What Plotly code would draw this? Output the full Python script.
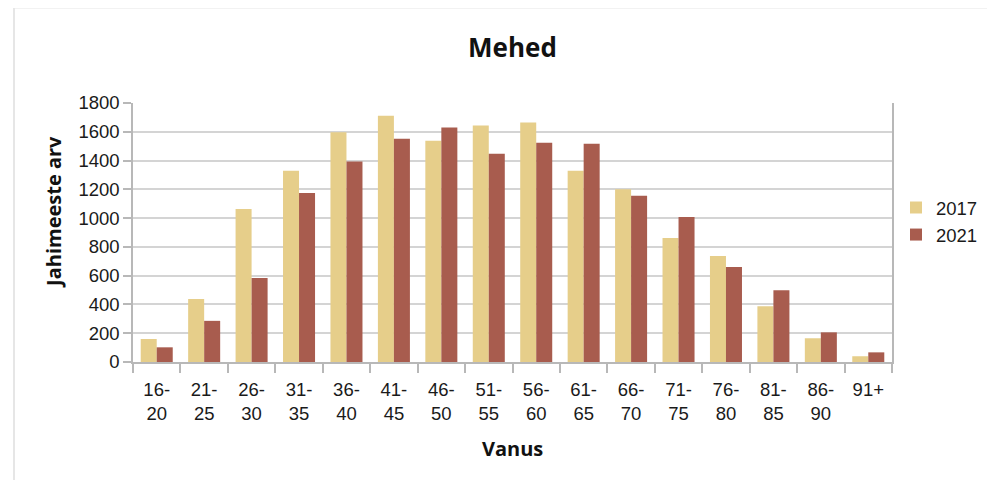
import plotly.graph_objects as go

categories = ["16-<br>20", "21-<br>25", "26-<br>30", "31-<br>35", "36-<br>40", "41-<br>45",
              "46-<br>50", "51-<br>55", "56-<br>60", "61-<br>65", "66-<br>70", "71-<br>75",
              "76-<br>80", "81-<br>85", "86-<br>90", "91+"]
values_2017 = [160, 437, 1064, 1329, 1596, 1712, 1538, 1643, 1664, 1329, 1201, 862, 736, 388, 165, 40]
values_2021 = [102, 286, 583, 1175, 1394, 1552, 1629, 1448, 1524, 1517, 1155, 1008, 660, 499, 206, 67]
y_ticks = [0, 200, 400, 600, 800, 1000, 1200, 1400, 1600, 1800]

# the page body adds an 8px offset; work in page pixels and subtract it
OFF = 8
W, H = 995 - OFF, 480 - OFF
L, R, T, B = 133 - OFF, 892 - OFF, 103.3 - OFF, 361.7 - OFF
pw, ph = R - L, B - T

def px(x):
    return (x - OFF - L) / pw

def py(y):
    return (B - (y - OFF)) / ph

fig = go.Figure()
fig.add_trace(go.Bar(name="2017", x=categories, y=values_2017, marker_color="#E6CE8A",
                     marker_line_width=0))
fig.add_trace(go.Bar(name="2021", x=categories, y=values_2021, marker_color="#A85C4E",
                     marker_line_width=0))

tick_font = dict(family="Liberation Sans, Arial, sans-serif", size=18.5, color="#1a1a1a")
title_font_family = "Open Sans, DejaVu Sans, sans-serif"

fig.update_layout(
    width=W, height=H,
    margin=dict(l=L, r=W - R, t=T, b=H - B, autoexpand=False),
    paper_bgcolor="white", plot_bgcolor="white",
    barmode="group", bargap=0.325, bargroupgap=0,
    title=dict(text="<b>Mehed</b>", x=0.5, xref="paper", y=1 - (48 - OFF) / H, yref="container",
               xanchor="center", yanchor="middle",
               font=dict(family=title_font_family, size=26, color="#111")),
    legend=dict(x=px(896), y=py(221.5), xanchor="left", yanchor="middle",
                font=dict(family="Liberation Sans, Arial, sans-serif", size=18.5, color="#1a1a1a"),
                itemwidth=30, bgcolor="rgba(0,0,0,0)"),
    showlegend=True,
)

fig.update_xaxes(
    type="category", showgrid=False, showline=True, linecolor="#b8b8b8", linewidth=1.5,
    ticks="outside", tickson="boundaries", ticklen=9, tickcolor="#b8b8b8", tickwidth=1.5,
    tickfont=tick_font, tickangle=0, ticklabelstandoff=10,
)
fig.update_yaxes(
    range=[0, 1800], tickvals=y_ticks, showgrid=True, gridcolor="#d4d4d4", gridwidth=1.5,
    showline=True, linecolor="#b8b8b8", linewidth=1.5, mirror=True,
    ticks="outside", ticklen=8, tickcolor="#b8b8b8", tickwidth=1.5,
    tickfont=tick_font, zeroline=False,
)

# axis titles
fig.add_annotation(text="<b>Vanus</b>", x=0.5, y=py(448), xref="paper", yref="paper",
                   showarrow=False, xanchor="center", yanchor="middle",
                   font=dict(family=title_font_family, size=20, color="#111"))
fig.add_annotation(text="<b>Jahimeeste arv</b>", x=px(54), y=py(212), xref="paper", yref="paper",
                   showarrow=False, xanchor="center", yanchor="middle", textangle=-90,
                   font=dict(family=title_font_family, size=20, color="#111"))

# outer frame
fig.add_shape(type="rect", xref="paper", yref="paper",
              x0=px(14), x1=px(1010), y0=py(500), y1=py(8),
              line=dict(color="#e6e6e6", width=2), fillcolor="rgba(0,0,0,0)", layer="below")

fig.write_html("out.html")
